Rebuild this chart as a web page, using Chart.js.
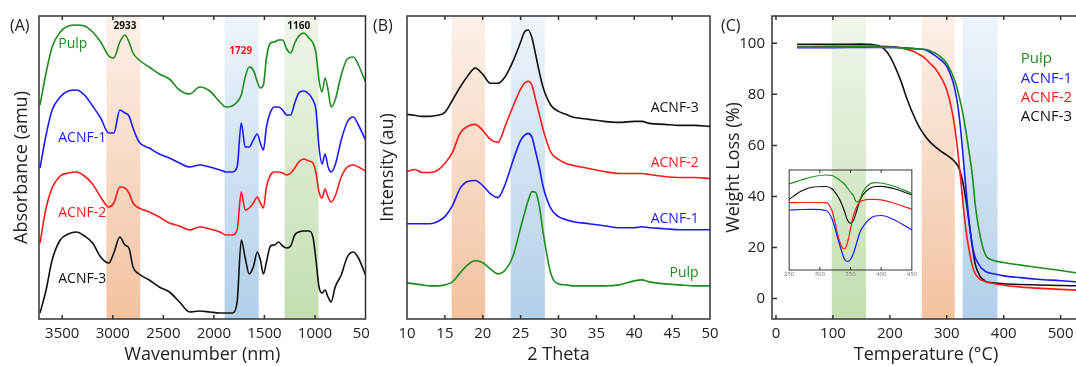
<!DOCTYPE html>
<html>
<head>
<meta charset="utf-8">
<script src="https://cdn.jsdelivr.net/npm/chart.js@4.4.0/dist/chart.umd.min.js"></script>
<style>
html, body { margin:0; padding:0; background:#fff; overflow:hidden; }
#wrap { position:relative; width:1076px; height:366px; overflow:hidden; }
canvas { position:absolute; top:0; }
#cA { left:0; }
#cB { left:369px; background:#fff; }
#cC { left:715px; }
#cIn { left:783px; top:166px; }
</style>
</head>
<body>
<div id="wrap">
<canvas id="cA" width="386" height="366"></canvas>
<canvas id="cB" width="356" height="366"></canvas>
<canvas id="cC" width="366" height="366"></canvas>
<canvas id="cIn" width="135" height="114"></canvas>
</div>
<script>
// sample names, same order everywhere
var names = ['Pulp', 'ACNF-1', 'ACNF-2', 'ACNF-3'];
var colors = ['#1e8c1e', '#1a1aff', '#ff1a1a', '#111111'];

// (A) FTIR, wavenumber grid + offset absorbance (a.u.)
var ftirWn = [3720, 3660, 3600, 3520, 3440, 3360, 3280, 3200, 3120, 3040, 2990, 2930, 2880, 2840, 2800, 2740, 2640, 2540, 2440, 2340,
  2240, 2140, 2040, 1940, 1880, 1820, 1770, 1729, 1690, 1650, 1610, 1570, 1540, 1510, 1480, 1440, 1400, 1360, 1320, 1280,
  1240, 1200, 1160, 1110, 1060, 1020, 990, 960, 930, 900, 870, 840, 800, 740, 680, 620, 570, 500];
var ftirPulp = [214, 246, 272, 287, 293, 294, 293, 287, 277, 263, 261, 277, 284, 277, 266, 259, 252, 245, 240, 229,
  225, 232, 228, 217, 212, 213, 217, 224, 242, 252, 249, 237, 231, 234, 261, 276, 277, 279, 279, 270,
  266, 276, 283, 286, 281, 276, 266, 239, 227, 241, 229, 212, 219, 244, 260, 262, 254, 237];
var ftirA1 = [151, 184, 209, 222, 228, 229, 224, 213, 201, 186, 186, 209, 206, 203, 191, 177, 171, 165, 161, 156,
  152, 154, 152, 149, 147, 147, 152, 196, 172, 172, 179, 185, 176, 169, 192, 207, 212, 212, 209, 204,
  204, 216, 226, 228, 225, 219, 209, 172, 155, 165, 152, 147, 154, 179, 197, 202, 194, 179];
var ftirA2 = [76, 111, 131, 143, 146, 147, 143, 135, 122, 112, 116, 132, 131, 126, 116, 111, 107, 102, 96, 93,
  89, 92, 90, 87, 84, 84, 89, 127, 109, 111, 116, 122, 116, 111, 132, 144, 147, 147, 146, 144,
  146, 151, 157, 160, 158, 156, 146, 127, 121, 130, 122, 117, 123, 142, 152, 154, 152, 148];
var ftirA3 = [6, 29, 59, 79, 85, 87, 83, 76, 62, 56, 66, 82, 74, 71, 52, 45, 39, 32, 27, 17,
  7, 8, 7, 6, 6, 6, 17, 79, 61, 45, 52, 67, 59, 45, 57, 73, 74, 77, 73, 71,
  73, 84, 87, 88, 88, 82, 59, 32, 26, 29, 22, 17, 32, 44, 62, 67, 61, 44];
var ftirPeaks = ['2933', '1729', '1160'];
var ftirTicks = [3500, 3000, 2500, 2000, 1500, 1000, 500];

// (B) XRD, 2 theta grid + offset intensity (a.u.)
var xrdTheta = [10, 11, 12, 13, 14, 15, 16, 17, 18, 19, 20, 21, 22, 23, 24, 25, 25.5, 26, 26.5, 27,
  27.5, 28, 29, 30, 31, 32, 34, 36, 38, 40, 41, 42, 44, 46, 48, 50];
var xrdPulp = [36, 35, 34, 33, 33, 34, 37, 46, 54, 58, 56, 50, 45, 49, 63, 91, 105, 118, 127, 126,
  111, 85, 45, 35, 34, 33, 33, 33, 34, 38, 39, 37, 35, 34, 33, 33];
var xrdA1 = [95, 95, 95, 95, 97, 102, 113, 130, 137, 138, 133, 125, 121, 135, 158, 178, 183, 185, 181, 166,
  150, 131, 110, 102, 99, 97, 95, 93, 91, 91, 92, 91, 90, 89, 89, 89];
var xrdA2 = [147, 149, 146, 146, 148, 155, 166, 185, 192, 194, 188, 179, 176, 193, 212, 229, 235, 237, 233, 218,
  203, 188, 166, 159, 155, 153, 150, 147, 145, 145, 145, 144, 142, 141, 141, 140];
var xrdA3 = [204, 203, 202, 202, 203, 206, 218, 231, 242, 250, 244, 235, 235, 242, 257, 276, 286, 288, 280, 263,
  245, 230, 213, 207, 204, 201, 199, 197, 196, 197, 197, 195, 194, 193, 193, 192];
var xrdTicks = [10, 15, 20, 25, 30, 35, 40, 45, 50];

// (C) TGA, temperature (C) + weight (%)
var tgaT = [37, 100, 150, 170, 180, 190, 200, 210, 220, 230, 240, 250, 260, 270, 280, 290, 300, 310, 315, 320,
  325, 330, 335, 340, 345, 350, 355, 360, 365, 370, 380, 400, 430, 460, 500, 530];
var tgaPulp = [98.5, 98.5, 98.6, 98.5, 98.5, 98.4, 98.4, 98.3, 98.2, 98.0, 97.9, 97.8, 97.7, 97.2, 96.1, 94.6, 92.1, 87.7, 84.7, 80.8,
  76.0, 70.3, 63.6, 56.2, 48.2, 36.7, 29.0, 23.1, 18.8, 16.4, 15.1, 14.1, 13.1, 12.2, 11.0, 10.0];
var tgaA1 = [98.3, 98.3, 98.4, 98.4, 98.4, 98.4, 98.4, 98.4, 98.3, 98.2, 98.0, 97.8, 97.6, 96.6, 95.1, 93.4, 91.0, 85.5, 81.2, 74.6,
  64.8, 52.4, 39.8, 28.5, 20.6, 16.1, 13.9, 12.1, 11.2, 10.4, 9.8, 8.9, 8.2, 7.6, 7.0, 6.5];
var tgaA2 = [98.6, 98.8, 98.9, 98.8, 98.8, 98.8, 98.7, 98.6, 98.2, 97.6, 97.0, 95.8, 94.5, 92.3, 90.0, 86.6, 81.7, 72.5, 65.4, 56.4,
  45.4, 34.0, 24.8, 18.0, 12.8, 9.7, 8.3, 7.3, 6.9, 6.6, 6.0, 5.2, 4.5, 4.1, 3.6, 3.3];
var tgaA3 = [99.6, 99.6, 99.7, 99.5, 99.1, 97.8, 94.9, 90.4, 84.9, 78.3, 72.7, 67.9, 64.3, 61.5, 59.4, 57.7, 56.2, 54.5, 53.3, 51.8,
  48.6, 43.5, 36.6, 28.5, 20.3, 13.5, 10.3, 8.2, 7.3, 6.5, 6.2, 5.8, 5.5, 5.3, 5.1, 5.0];
var tgaTicksX = [0, 100, 200, 300, 400, 500];
var tgaTicksY = [0, 20, 40, 60, 80, 100];

// (C) inset DTG, relative units
var dtgT = [250, 270, 290, 310, 320, 330, 335, 340, 345, 350, 355, 360, 365, 370, 380, 390, 400, 420, 450];
var dtgPulp = [86, 90, 93.5, 95, 94.5, 91, 88.5, 86, 82, 78, 74, 68, 70, 78, 85.5, 87.3, 87, 84, 76.5];
var dtgA1 = [60, 60.5, 60.7, 59.5, 51, 30, 20, 11, 8.5, 10.5, 17, 27, 37, 43, 50.5, 54, 54.5, 50.5, 40];
var dtgA2 = [67.3, 67.5, 67.5, 67.3, 59, 33.3, 24, 21, 27, 41, 55, 63, 68, 69.5, 70.7, 70.7, 70.2, 67, 60.7];
var dtgA3 = [70.7, 79, 83, 83.5, 81, 73, 67, 59, 50, 46.7, 50, 59, 69, 75, 81, 83.5, 83.7, 81.5, 75];
var dtgTicks = [250, 300, 350, 400, 450];

var FONT = "'Open Sans', sans-serif";
Chart.defaults.font.family = FONT;
Chart.defaults.color = '#222';

var ORANGE = ['#fcf1ea', '#f3c2a0'];
var BLUE = ['#eff5fb', '#b2cfea'];
var GREEN = ['#f0f6eb', '#c3deb0'];

function lineSet(xs, ys, i, w) {
  return {
    label: names[i],
    data: xs.map(function(x, k) { return {x: x, y: ys[k]}; }),
    borderColor: colors[i], borderWidth: w || 1.6,
    pointRadius: 0, fill: false, cubicInterpolationMode: 'monotone'
  };
}

// fixed tick positions, plain numbers (no thousands comma)
function fixedTicks(list, size, pad, color) {
  return {
    ticks: {font: {size: size}, padding: pad, color: color || '#222', maxRotation: 0, autoSkip: false,
      callback: function(v) { return String(v); }},
    afterBuildTicks: function(s) { s.ticks = list.map(function(v) { return {value: v}; }); }
  };
}

function bandsPlugin(bands) {
  return { id: 'bands', beforeDatasetsDraw: function(chart) {
    var ctx = chart.ctx, a = chart.chartArea, xs = chart.scales.x;
    bands.forEach(function(b) {
      var x1 = xs.getPixelForValue(b[0]), x2 = xs.getPixelForValue(b[1]);
      var g = ctx.createLinearGradient(0, a.top, 0, a.bottom);
      g.addColorStop(0, b[2][0]); g.addColorStop(1, b[2][1]);
      ctx.save();
      ctx.fillStyle = g;
      ctx.fillRect(Math.min(x1, x2), a.top, Math.abs(x2 - x1), a.bottom - a.top);
      ctx.restore();
    });
  }};
}

// box round the plot + ticks pointing inwards
function framePlugin(lw, tl, leftTicks) {
  return { id: 'frame', afterDraw: function(chart) {
    var ctx = chart.ctx, a = chart.chartArea, xs = chart.scales.x, ys = chart.scales.y;
    ctx.save();
    ctx.strokeStyle = '#333'; ctx.lineWidth = lw;
    ctx.strokeRect(a.left, a.top, a.right - a.left, a.bottom - a.top);
    ctx.beginPath();
    xs.ticks.forEach(function(t) {
      var p = xs.getPixelForValue(t.value);
      if (p <= a.left + 2 || p >= a.right - 2) return;
      ctx.moveTo(p, a.bottom); ctx.lineTo(p, a.bottom - tl);
      ctx.moveTo(p, a.top); ctx.lineTo(p, a.top + tl);
    });
    if (leftTicks) {
      ys.ticks.forEach(function(t) {
        var p = ys.getPixelForValue(t.value);
        ctx.moveTo(a.left, p); ctx.lineTo(a.left + tl + 1, p);
      });
    }
    ctx.stroke();
    ctx.restore();
  }};
}

function textPlugin(items, tag) {
  return { id: 'texts', afterDatasetsDraw: function(chart) {
    var ctx = chart.ctx, xs = chart.scales.x, ys = chart.scales.y;
    ctx.save();
    ctx.textBaseline = 'middle';
    items.forEach(function(t) {
      ctx.font = (t.bold ? 'bold ' : '') + t.size + 'px ' + FONT;
      ctx.fillStyle = t.color;
      ctx.textAlign = t.align || 'center';
      ctx.fillText(t.text, xs.getPixelForValue(t.x), ys.getPixelForValue(t.y));
    });
    if (tag) {
      ctx.font = '16px ' + FONT; ctx.fillStyle = '#222'; ctx.textAlign = 'left';
      ctx.fillText(tag[0], tag[1], tag[2]);
    }
    ctx.restore();
  }};
}

function xAxis(opts, list) {
  return Object.assign({
    type: 'linear',
    grid: {display: false, drawTicks: false},
    border: {display: false},
    afterFit: function(s) { s.height = 47; }
  }, fixedTicks(list, 15, 6), opts);
}

function yTitleOnly(text, min, max, padTop, width) {
  return {min: min, max: max, grid: {display: false, drawTicks: false}, border: {display: false},
    ticks: {display: false},
    title: {display: true, text: text, font: {size: 18}, color: '#222', padding: {top: padTop, bottom: 0}},
    afterFit: function(s) { s.width = width; }};
}

function baseOptions(pad) {
  return {
    responsive: false, animation: false, devicePixelRatio: 1,
    layout: {padding: pad},
    plugins: {legend: {display: false}, tooltip: {enabled: false}}
  };
}

// ---------- (A) ----------
var optA = baseOptions({top: 16, right: 20.5, left: 0, bottom: 0});
optA.scales = {
  x: xAxis({reverse: true, min: 500, max: 3730,
    title: {display: true, text: 'Wavenumber (nm)', font: {size: 18}, color: '#222', padding: 0}}, ftirTicks),
  y: yTitleOnly('Absorbance (amu)', 0, 303, 11, 39)
};
new Chart(document.getElementById('cA'), {
  type: 'line',
  data: {datasets: [lineSet(ftirWn, ftirPulp, 0), lineSet(ftirWn, ftirA1, 1), lineSet(ftirWn, ftirA2, 2), lineSet(ftirWn, ftirA3, 3)]},
  options: optA,
  plugins: [
    bandsPlugin([[3063, 2728, ORANGE], [1894, 1556, BLUE], [1300, 965, GREEN]]),
    textPlugin([
      {text: names[0], x: 3540, y: 275, color: colors[0], size: 14, align: 'left'},
      {text: names[1], x: 3540, y: 181, color: colors[1], size: 14, align: 'left'},
      {text: names[2], x: 3540, y: 106, color: colors[2], size: 14, align: 'left'},
      {text: names[3], x: 3540, y: 40, color: colors[3], size: 14, align: 'left'},
      {text: ftirPeaks[0], x: 2880, y: 293, color: '#111', size: 10, bold: true},
      {text: ftirPeaks[1], x: 1735, y: 268, color: '#ff1a1a', size: 10, bold: true},
      {text: ftirPeaks[2], x: 1160, y: 293, color: '#111', size: 10, bold: true}
    ], ['(A)', 10, 26]),
    framePlugin(1.5, 4, false)
  ]
});

// ---------- (B) ----------
var optB = baseOptions({top: 16, right: 15, left: 0, bottom: 0});
optB.scales = {
  x: xAxis({min: 10, max: 50,
    title: {display: true, text: '2 Theta', font: {size: 18}, color: '#222', padding: 0}}, xrdTicks),
  y: yTitleOnly('Intensity (au)', 0, 302, 8, 38)
};
new Chart(document.getElementById('cB'), {
  type: 'line',
  data: {datasets: [lineSet(xrdTheta, xrdPulp, 0), lineSet(xrdTheta, xrdA1, 1), lineSet(xrdTheta, xrdA2, 2), lineSet(xrdTheta, xrdA3, 3)]},
  options: optB,
  plugins: [
    bandsPlugin([[15.9, 20.3, ORANGE], [23.7, 28.2, BLUE]]),
    textPlugin([
      {text: names[3], x: 48.5, y: 210, color: colors[3], size: 14, align: 'right'},
      {text: names[2], x: 48.5, y: 155, color: colors[2], size: 14, align: 'right'},
      {text: names[1], x: 48.5, y: 100, color: colors[1], size: 14, align: 'right'},
      {text: names[0], x: 48.5, y: 46, color: colors[0], size: 14, align: 'right'}
    ], ['(B)', 4, 26]),
    framePlugin(1.5, 4, false)
  ]
});

// ---------- (C) ----------
var optC = baseOptions({top: 16, right: 1, left: 0, bottom: 0});
var yC = Object.assign({min: -8, max: 110.7, grid: {display: false, drawTicks: false}, border: {display: false},
  title: {display: true, text: 'Weight Loss (%)', font: {size: 18}, color: '#222', padding: {top: 8, bottom: 0}},
  afterFit: function(s) { s.width = 57; }}, fixedTicks(tgaTicksY, 15, 7));
optC.scales = {
  x: xAxis({min: -7, max: 534,
    title: {display: true, text: 'Temperature (°C)', font: {size: 18}, color: '#222', padding: 0}}, tgaTicksX),
  y: yC
};
new Chart(document.getElementById('cC'), {
  type: 'line',
  data: {datasets: [lineSet(tgaT, tgaPulp, 0), lineSet(tgaT, tgaA1, 1), lineSet(tgaT, tgaA2, 2), lineSet(tgaT, tgaA3, 3)]},
  options: optC,
  plugins: [
    bandsPlugin([[98, 158, GREEN], [256, 314, ORANGE], [328, 389, BLUE]]),
    textPlugin([
      {text: names[0], x: 430, y: 94.1, color: colors[0], size: 15, align: 'left'},
      {text: names[1], x: 430, y: 86.1, color: colors[1], size: 15, align: 'left'},
      {text: names[2], x: 430, y: 78.5, color: colors[2], size: 15, align: 'left'},
      {text: names[3], x: 430, y: 71.1, color: colors[3], size: 15, align: 'left'}
    ], ['(C)', 6, 26]),
    framePlugin(1.5, 4, true)
  ]
});

// ---------- (C) inset ----------
var optIn = baseOptions({top: 4, right: 5, left: 5, bottom: 0});
optIn.scales = {
  x: Object.assign({type: 'linear', min: 250, max: 450,
    grid: {display: false, drawTicks: false}, border: {display: false},
    afterFit: function(s) { s.height = 10; }}, fixedTicks(dtgTicks, 6, 1, '#777')),
  y: {display: false, min: 0, max: 100}
};
new Chart(document.getElementById('cIn'), {
  type: 'line',
  data: {datasets: [lineSet(dtgT, dtgPulp, 0, 1.2), lineSet(dtgT, dtgA1, 1, 1.2), lineSet(dtgT, dtgA2, 2, 1.2), lineSet(dtgT, dtgA3, 3, 1.2)]},
  options: optIn,
  plugins: [framePlugin(1, 3, false)]
});
</script>
</body>
</html>
